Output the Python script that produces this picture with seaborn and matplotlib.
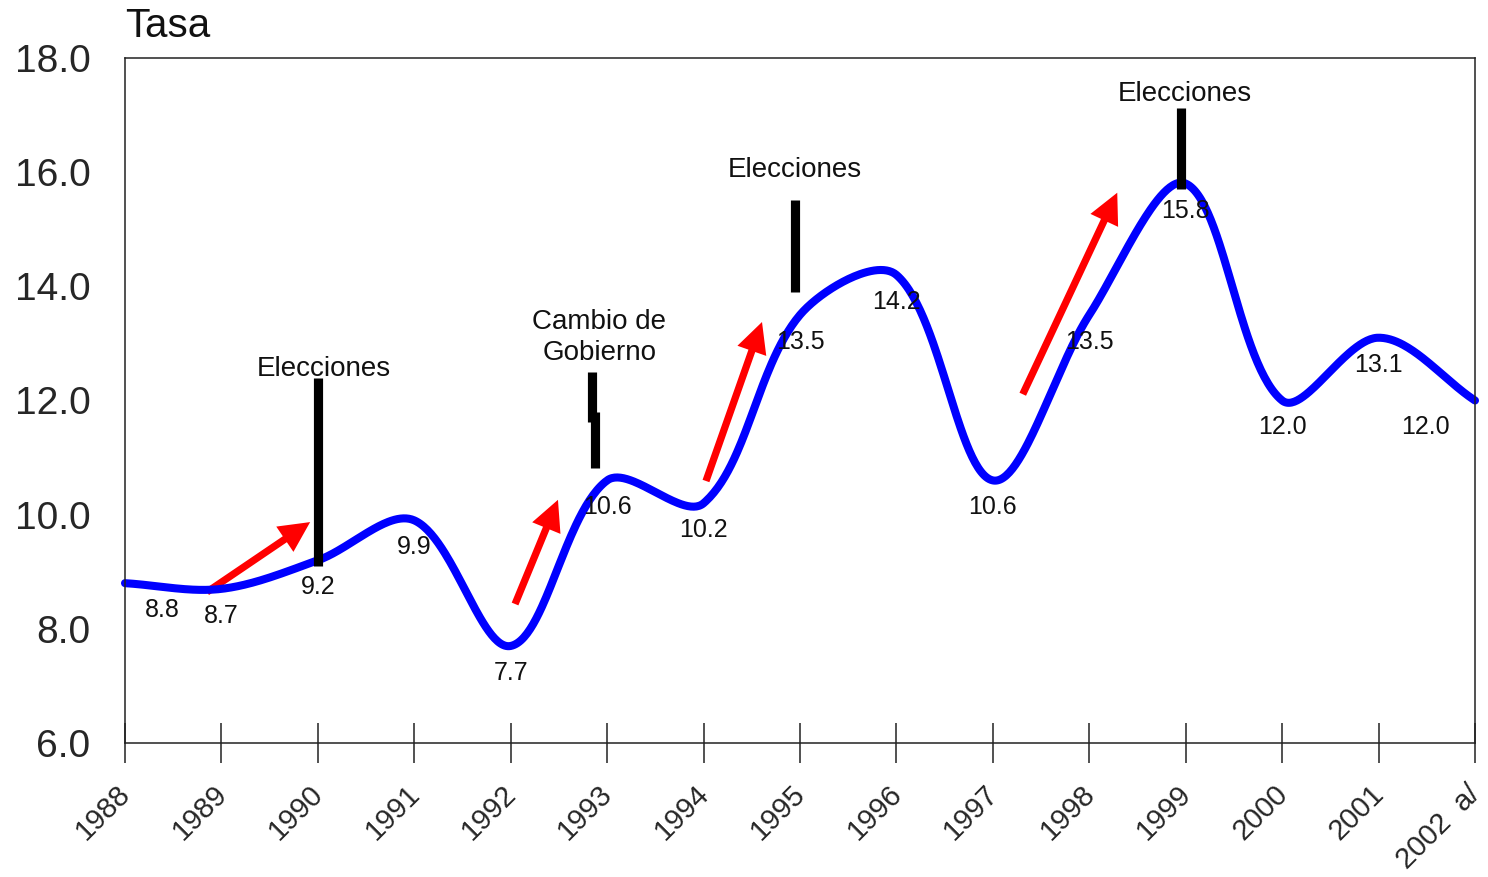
import numpy as np
import pandas as pd
import matplotlib
matplotlib.use("Agg")
import matplotlib.pyplot as plt
import seaborn as sns
from matplotlib.patches import FancyArrowPatch, ArrowStyle
from matplotlib.transforms import ScaledTranslation

# Annual rate, 1988-2002
years = ["1988", "1989", "1990", "1991", "1992", "1993", "1994", "1995",
         "1996", "1997", "1998", "1999", "2000", "2001", "2002  a/"]
tasa = [8.8, 8.7, 9.2, 9.9, 7.7, 10.6, 10.2, 13.5, 14.2, 10.6, 13.5, 15.8,
        12.0, 13.1, 12.0]

# Political events marked on the series
event_text = ["Elecciones", "Cambio de\nGobierno", "Elecciones", "Elecciones"]
event_text_x = [2.06, 4.92, 6.95, 10.99]
event_text_y = [12.55, 13.10, 16.04, 17.37]
event_bar_x = [2.0, 4.848, 4.869, 6.95, 10.956]
event_bar_lo = [9.10, 11.62, 10.82, 13.90, 15.71]
event_bar_hi = [12.39, 12.50, 11.80, 15.51, 17.12]

# Upswing arrows (tail -> head)
arrow_tail = [(0.85, 8.645), (4.045, 8.435), (6.025, 10.59), (9.31, 12.11)]
arrow_head = [(1.92, 9.87), (4.49, 10.26), (6.606, 13.375), (10.29, 15.64)]

# on-screen size of one x step / one y unit, used for chord-weighted smoothing
PX_X, PX_Y = 96.43, 57.08


def smooth_path(values, n=60):
    """Cubic Bezier smoothing through every point, tangents weighted by
    the on-screen chord lengths of the neighbouring segments."""
    y = np.asarray(values, float)
    p = np.column_stack([np.arange(len(y), dtype=float), y])
    scr = p * np.array([PX_X, PX_Y])
    m = len(p)
    out_c, in_c = [], []
    for i in range(m):
        a = scr[max(i - 1, 0)]
        b = scr[min(i + 1, m - 1)]
        d_prev = np.linalg.norm(scr[i] - a)
        d_next = np.linalg.norm(b - scr[i])
        tot = d_prev + d_next
        tan = b - a
        out_c.append(scr[i] + tan * (d_next / tot) / 3.0)
        in_c.append(scr[i] - tan * (d_prev / tot) / 3.0)
    segs = []
    for i in range(m - 1):
        p1, c1, c2, p2 = scr[i], out_c[i], in_c[i + 1], scr[i + 1]
        t = np.linspace(0, 1, n, endpoint=(i == m - 2))[:, None]
        segs.append((1 - t) ** 3 * p1 + 3 * (1 - t) ** 2 * t * c1
                    + 3 * (1 - t) * t ** 2 * c2 + t ** 3 * p2)
    return np.vstack(segs) / np.array([PX_X, PX_Y])


sns.set_theme(style="white")
plt.rcParams["font.family"] = ["Liberation Sans", "DejaVu Sans"]
plt.rcParams["text.color"] = "#111111"
plt.rcParams["axes.edgecolor"] = "#222222"

fig = plt.figure(figsize=(14.88, 8.77), dpi=100)
ax = fig.add_axes([125 / 1488, 1 - 743 / 877, 1350 / 1488, 685 / 877])

curve = smooth_path(tasa)
df = pd.DataFrame({"x": curve[:, 0], "tasa": curve[:, 1]})
sns.lineplot(data=df, x="x", y="tasa", ax=ax, color="#0000FF", linewidth=5.8,
             sort=False, estimator=None)
ax.lines[-1].set_solid_capstyle("round")
ax.lines[-1].set_clip_on(False)

# value labels under each point
label_dx = {0: 37, 14: -50}
for i, v in enumerate(tasa):
    ax.annotate(f"{v:.1f}", (i, v), xytext=(label_dx.get(i, 0), -27),
                textcoords="offset pixels", ha="center", va="center",
                fontsize=18, color="#111111")

# event bars and labels
for bx, lo, hi in zip(event_bar_x, event_bar_lo, event_bar_hi):
    ax.plot([bx, bx], [lo, hi], color="black", linewidth=6.6,
            solid_capstyle="butt")
for tx, ty, t in zip(event_text_x, event_text_y, event_text):
    ax.text(tx, ty, t, ha="center", va="center", fontsize=20,
            linespacing=1.25, color="#111111")

# red arrows
style = ArrowStyle.Simple(head_length=22, head_width=22, tail_width=5.2)
for a, b in zip(arrow_tail, arrow_head):
    ax.add_patch(FancyArrowPatch(a, b, arrowstyle=style, mutation_scale=1,
                                 color="#FF0000", shrinkA=0, shrinkB=0,
                                 linewidth=0))

ax.set_xlim(0, len(years) - 1)
ax.set_ylim(6, 18)
ax.set_xticks(range(len(years)))
ax.set_xticklabels(years, rotation=45, ha="right", fontsize=21)
ax.set_yticks(np.arange(6, 18.1, 2))
ax.set_yticklabels([f"{v:.1f}" for v in np.arange(6, 18.1, 2)], fontsize=28)
ax.set_xlabel("")
ax.set_ylabel("")
ax.tick_params(axis="x", direction="inout", length=29.5, width=1.1,
               color="#222222", pad=12, bottom=True)
ax.tick_params(axis="y", length=0, pad=25, left=True)
for s in ax.spines.values():
    s.set_visible(True)
    s.set_linewidth(1.1)
ax.grid(False)

# nudge the rotated year labels so their top end sits just right of the tick
shift = ScaledTranslation(11 / 100, 0, fig.dpi_scale_trans)
for tick in ax.xaxis.get_major_ticks():
    tick.label1.set_transform(tick.label1.get_transform() + shift)

fig.text(125 / 1488, 1 - 37 / 877, "Tasa", fontsize=29, va="baseline",
         ha="left", color="#111111")

fig.savefig("out.png", dpi=100, facecolor="white")
